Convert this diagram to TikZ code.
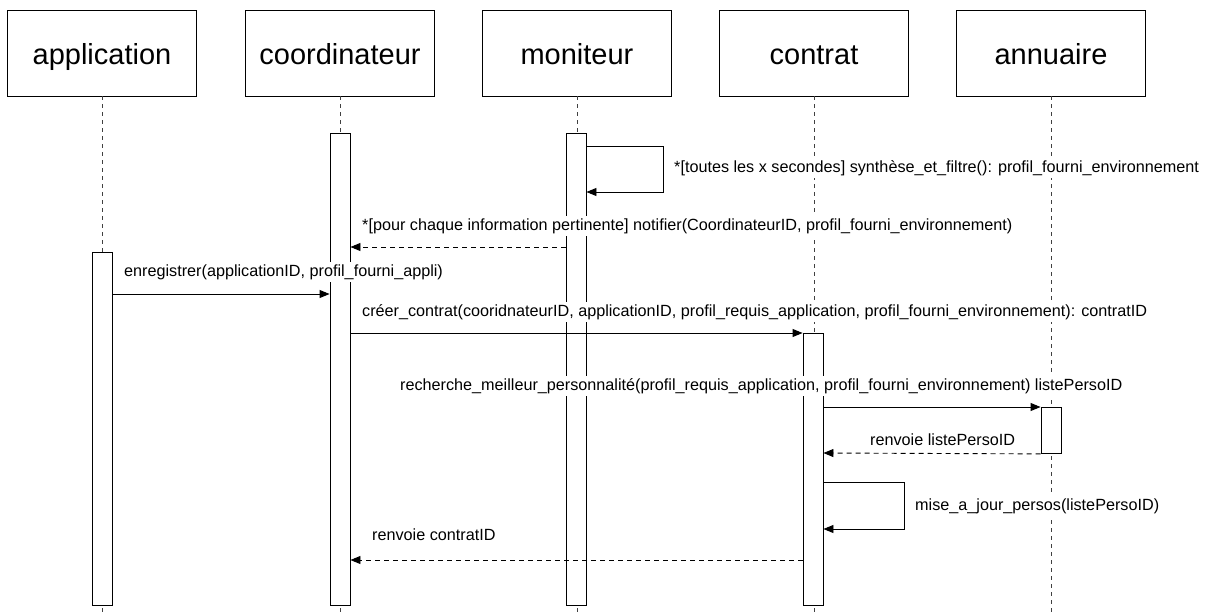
\documentclass[tikz,border=0pt]{standalone}
\usepackage{fontspec}
\setmainfont{Liberation Sans}
\usetikzlibrary{arrows.meta}

\begin{document}
\begin{tikzpicture}[
    x=1pt, y=-1pt,
    obj/.style={rectangle, draw, line width=0.9pt, minimum width=189pt, minimum height=86pt, text height=25pt, text depth=2pt, font=\fontsize{29}{32}\selectfont},
    act/.style={rectangle, draw, fill=white, line width=0.9pt, minimum width=20pt, anchor=north},
    life/.style={dash pattern=on 4pt off 4pt, line width=0.8pt, black!75},
    msg/.style={-{Triangle[length=10pt,width=8pt]}, line width=0.9pt},
    ret/.style={msg, dash pattern=on 5pt off 4pt},
    lbl/.style={fill=white, inner sep=2pt, anchor=west, font=\fontsize{16.2}{19}\selectfont}
]
    \useasboundingbox (0,0) rectangle (1224,616);

    % Objects
    \node[obj] (app) at (102, 53) {application};
    \node[obj] (coord) at (340, 53) {coordinateur};
    \node[obj] (moni) at (577, 53) {moniteur};
    \node[obj] (contrat) at (814, 53) {contrat};
    \node[obj] (annu) at (1051, 53) {annuaire};

    % Lifelines
    \foreach \o in {app, coord, moni, contrat, annu}
        \draw[life] (\o.south) -- (\o.south |- 0,616);

    % Activations
    \node[act, minimum height=353pt] (actapp) at (102, 252) {};
    \node[act, minimum height=472pt] (actcoord) at (340, 133) {};
    \node[act, minimum height=472pt] (actmoni) at (576, 133) {};
    \node[act, minimum height=272pt] (actcontrat) at (813, 333) {};
    \node[act, minimum height=46pt] (actannu) at (1051, 407) {};

    % Messages
    \draw[msg] (actmoni.east |- 0,146) -- ++(77,0) |- (actmoni.east |- 0,192);
    \draw[ret] (actmoni.west |- 0,247) -- (actcoord.east |- 0,247);
    \draw[msg] (actapp.east |- 0,294) -- (actcoord.west |- 0,294);
    \draw[msg] (actcoord.east |- 0,333) -- (actcontrat.north west);
    \draw[msg] (actcontrat.east |- 0,407) -- (actannu.north west);
    \draw[ret] (actannu.south west) -- (actcontrat.east |- 0,453);
    \draw[msg] (actcontrat.east |- 0,482) -- ++(81,0) |- (actcontrat.east |- 0,529);
    \draw[ret] (actcontrat.west |- 0,560) -- (actcoord.east |- 0,560);

    % Labels
    \node[lbl] (l1) at (672, 168) {*[toutes les x secondes] synthèse\_et\_filtre(): profil\_fourni\_environnement};
    \node[lbl] (l2) at (360, 226) {*[pour chaque information pertinente] notifier(CoordinateurID, profil\_fourni\_environnement)};
    \node[lbl] (l3) at (122, 272) {enregistrer(applicationID, profil\_fourni\_appli)};
    \node[lbl] (l4) at (360, 312) {créer\_contrat(cooridnateurID, applicationID, profil\_requis\_application, profil\_fourni\_environnement): contratID};
    \node[lbl] (l5) at (398, 386) {recherche\_meilleur\_personnalité(profil\_requis\_application, profil\_fourni\_environnement) listePersoID};
    \node[lbl] (l6) at (868, 440) {renvoie listePersoID};
    \node[lbl] (l7) at (913, 506) {mise\_a\_jour\_persos(listePersoID)};
    \node[lbl] (l8) at (370, 535) {renvoie contratID};
\end{tikzpicture}
\end{document}
